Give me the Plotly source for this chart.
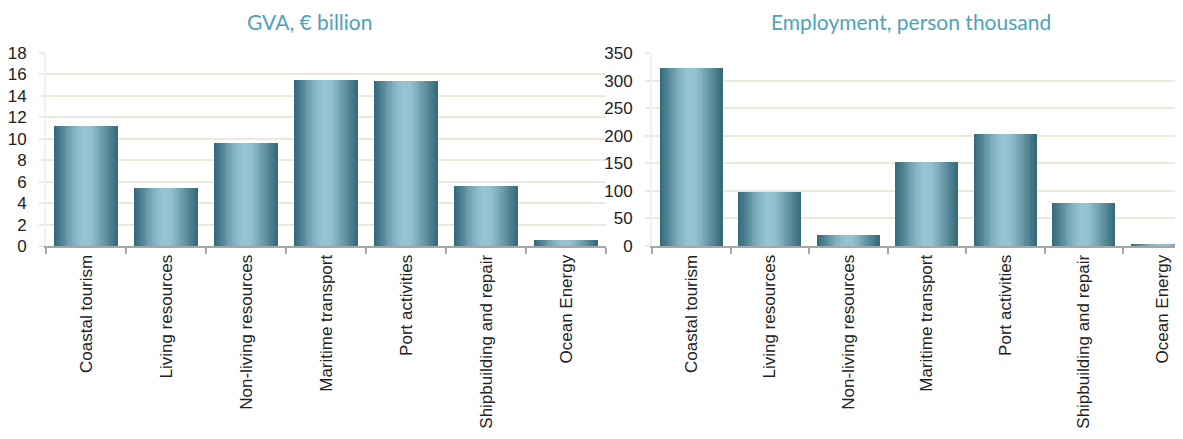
import plotly.graph_objects as go
from plotly.colors import sample_colorscale

categories = ["Coastal tourism", "Living resources", "Non-living resources",
              "Maritime transport", "Port activities", "Shipbuilding and repair",
              "Ocean Energy"]
gva_values = [11.2, 5.4, 9.6, 15.5, 15.4, 5.6, 0.55]
emp_values = [323, 98, 20, 152, 204, 78, 3.5]
gva_ticks = list(range(0, 19, 2))
emp_ticks = list(range(0, 351, 50))

# page has an 8px body margin; figure is sized to fill the rest of the window
OFF = 8
W = 1183 - OFF
H = 439 - OFF


def px(p):
    return p - OFF


gradient = [[0.0, "#336a79"], [0.12, "#4f8393"], [0.3, "#80b0bf"], [0.45, "#97c4d2"],
            [0.58, "#94c1cf"], [0.75, "#6d9dac"], [0.9, "#4a7c8b"], [1.0, "#336a79"]]

N = 36
BW = 0.8
stripe_colors = sample_colorscale(gradient, [(i + 0.5) / N for i in range(N)])

fig = go.Figure()

for xa, ya, vals in (("x", "y", gva_values), ("x2", "y2", emp_values)):
    for i in range(N):
        start = -BW / 2 + i * BW / N
        fig.add_trace(go.Bar(
            x=categories, y=vals, xaxis=xa, yaxis=ya,
            width=BW / 2 - start, offset=start,
            marker=dict(color=stripe_colors[i], line=dict(width=0)),
            hoverinfo="skip", showlegend=False,
        ))

grid = "#ede9df"
tickfont = dict(family="Liberation Sans, Arial, sans-serif", size=17, color="#222222")
y0 = (H - px(246)) / H
y1 = (H - px(53)) / H

xcommon = dict(type="category", tickson="boundaries", ticks="outside", ticklen=6,
               tickwidth=2, tickcolor="#a6a6a6", showline=True, linecolor="#a6a6a6",
               linewidth=2, tickangle=-90, tickfont=tickfont, showgrid=False,
               fixedrange=True, automargin=False)
ycommon = dict(showgrid=True, gridcolor=grid, gridwidth=2, ticks="outside", ticklen=5,
               tickcolor=grid, tickwidth=2, showline=True, linecolor="#f0f0f0",
               linewidth=2, tickfont=tickfont, zeroline=False, ticklabelstandoff=9,
               domain=[y0, y1], automargin=False)

step_r = 78.5
right_end = 6.5 - (652 + 7 * step_r - 1183) / step_r

fig.update_layout(
    width=W, height=H, margin=dict(l=0, r=0, t=0, b=0),
    paper_bgcolor="white", plot_bgcolor="white", barmode="overlay",
    bargap=0,
    xaxis=dict(xcommon, domain=[px(46) / W, px(606) / W], range=[-0.5, 6.5], anchor="y"),
    yaxis=dict(ycommon, range=[0, 18], tickvals=gva_ticks, anchor="x"),
    xaxis2=dict(xcommon, domain=[px(652) / W, 1.0], range=[-0.5, right_end], anchor="y2"),
    yaxis2=dict(ycommon, range=[0, 350], tickvals=emp_ticks, anchor="x2"),
    annotations=[
        dict(text="GVA, € billion", x=px(309) / W, y=1 - px(22) / H, xref="paper",
             yref="paper", showarrow=False, xanchor="center", yanchor="middle",
             font=dict(family="Lato, Open Sans, sans-serif", size=21, color="#4fa2b8")),
        dict(text="Employment, person thousand", x=px(911) / W, y=1 - px(22) / H,
             xref="paper", yref="paper", showarrow=False, xanchor="center",
             yanchor="middle",
             font=dict(family="Lato, Open Sans, sans-serif", size=21, color="#4fa2b8")),
    ],
)

fig.write_html("out.html")
